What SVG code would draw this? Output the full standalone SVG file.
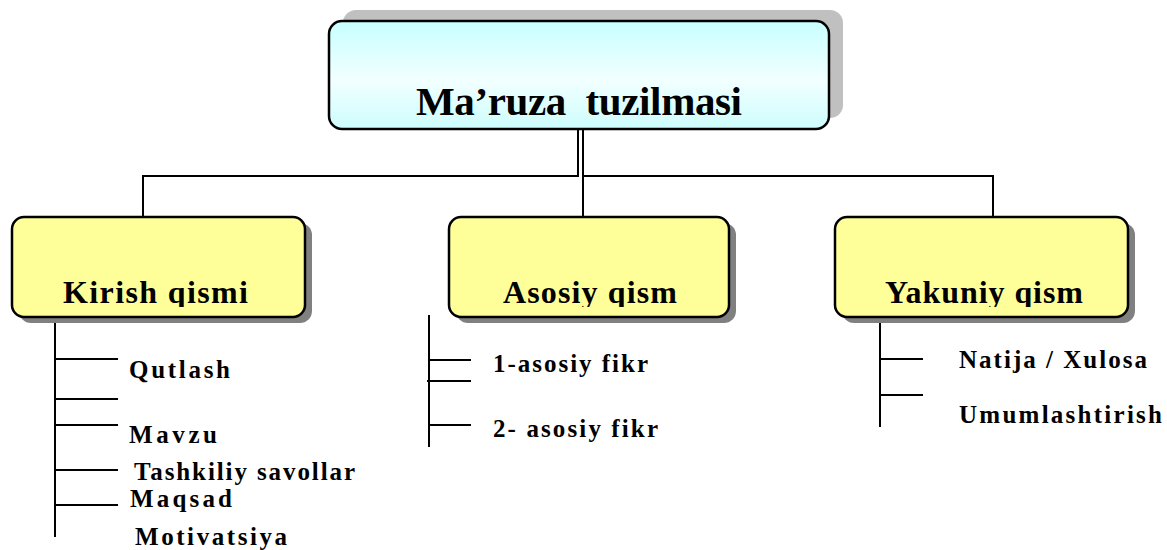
<svg xmlns="http://www.w3.org/2000/svg" width="1167" height="550" viewBox="0 0 1167 550">
<defs>
<linearGradient id="cyanGrad" x1="0" y1="0" x2="0" y2="1">
<stop offset="0" stop-color="#c8ffff"/>
<stop offset="0.55" stop-color="#f2ffff"/>
<stop offset="1" stop-color="#cdfdfd"/>
</linearGradient>
<clipPath id="clipLabels"><rect x="0" y="200" width="1167" height="107"/></clipPath>
</defs>
<style>
.box{stroke:#000;stroke-width:2.5}
.yellow{fill:#ffff99}
.shadow{fill:#808080}
text{font-family:'Liberation Serif','DejaVu Serif',serif;font-weight:bold;fill:#000}
.title{font-size:41px}
.label{font-size:32px}
.item{font-size:25px}
.conn{fill:none;stroke:#000;stroke-width:2}
</style>
<rect width="1167" height="550" fill="#fff"/>
<g id="connectors" class="conn">
<path d="M578 129 V176 H143 V217"/>
<path d="M583 129 V217"/>
<path d="M583 176 H993 V217"/>
<path d="M55 318 V537 M55 359 H118 M55 399 H118 M55 425 H118 M55 470 H118 M55 505 H118"/>
<path d="M429 315 V447 M429 360 H471 M427 381 H471 M429 425 H471"/>
<path d="M880 318 V427 M880 359 H923 M880 395 H923"/>
</g>
<g id="node-root">
<rect x="343" y="10" width="500" height="108" rx="13" fill="#c0c0c0"/>
<rect x="329" y="21" width="500" height="108" rx="13" class="box" fill="url(#cyanGrad)"/>
<text x="416" y="115" class="title" font-family="Liberation Serif, serif" textLength="326" lengthAdjust="spacing" xml:space="preserve">Ma’ruza  tuzilmasi</text>
</g>
<g id="node-kirish">
<rect x="19" y="223" width="293" height="100" rx="12" class="shadow"/>
<rect x="12" y="217" width="293" height="100" rx="12" class="box yellow"/>
<text x="63" y="303" class="label" clip-path="url(#clipLabels)" textLength="185" lengthAdjust="spacing">Kirish qismi</text>
</g>
<g id="node-asosiy">
<rect x="456" y="223" width="280" height="100" rx="12" class="shadow"/>
<rect x="449" y="217" width="280" height="100" rx="12" class="box yellow"/>
<text x="503" y="303" class="label" clip-path="url(#clipLabels)" textLength="174" lengthAdjust="spacing">Asosiy qism</text>
</g>
<g id="node-yakuniy">
<rect x="842" y="223" width="293" height="100" rx="12" class="shadow"/>
<rect x="835" y="217" width="293" height="100" rx="12" class="box yellow"/>
<text x="885" y="303" class="label" clip-path="url(#clipLabels)" textLength="198" lengthAdjust="spacing">Yakuniy qism</text>
</g>
<g id="node-qutlash"><text x="129" y="378" class="item" textLength="101" lengthAdjust="spacing">Qutlash</text></g>
<g id="node-mavzu"><text x="129" y="443" class="item" textLength="88" lengthAdjust="spacing">Mavzu</text></g>
<g id="node-tashkiliy"><text x="134" y="480" class="item" textLength="221" lengthAdjust="spacing">Tashkiliy savollar</text></g>
<g id="node-maqsad"><text x="130" y="507" class="item" textLength="102" lengthAdjust="spacing">Maqsad</text></g>
<g id="node-motivatsiya"><text x="135" y="545" class="item" textLength="152" lengthAdjust="spacing">Motivatsiya</text></g>
<g id="node-fikr1"><text x="493" y="372" class="item" textLength="155" lengthAdjust="spacing">1-asosiy fikr</text></g>
<g id="node-fikr2"><text x="493" y="437" class="item" textLength="165" lengthAdjust="spacing">2- asosiy fikr</text></g>
<g id="node-natija"><text x="959" y="368" class="item" textLength="188" lengthAdjust="spacing">Natija / Xulosa</text></g>
<g id="node-umum"><text x="959" y="423" class="item" textLength="203" lengthAdjust="spacing">Umumlashtirish</text></g>
</svg>
